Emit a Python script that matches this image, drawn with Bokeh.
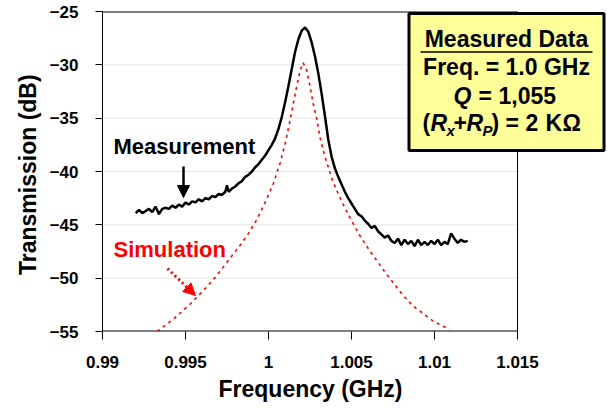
from bokeh.plotting import figure
from bokeh.models import FixedTicker, Label, BoxAnnotation, Arrow, NormalHead, Title
from bokeh.embed import file_html
from bokeh.resources import INLINE

# ---- data -------------------------------------------------------------
meas_freq = [0.9920, 0.9922, 0.9924, 0.9926, 0.9928, 0.9930, 0.9932, 0.9934, 0.9936, 0.9938,
             0.9940, 0.9942, 0.9944, 0.9946, 0.9948, 0.9950, 0.9952, 0.9954, 0.9956, 0.9958,
             0.9960, 0.9962, 0.9964, 0.9966, 0.9968, 0.9970, 0.9972, 0.9974, 0.9975, 0.9976,
             0.9978, 0.9980, 0.9982, 0.9984, 0.9986, 0.9988, 0.9990, 0.9992, 0.9994, 0.9996,
             0.9998, 1.0000, 1.0002, 1.0004, 1.0006, 1.0008, 1.0010, 1.0012, 1.0014, 1.0016,
             1.0018, 1.0020, 1.0022, 1.0024, 1.0026, 1.0028, 1.0030, 1.0032, 1.0034, 1.0036,
             1.0038, 1.0040, 1.0042, 1.0044, 1.0046, 1.0048, 1.0050, 1.0052, 1.0054, 1.0056,
             1.0058, 1.0060, 1.0062, 1.0064, 1.0066, 1.0068, 1.0070, 1.0072, 1.0074, 1.0076,
             1.0078, 1.0080, 1.0082, 1.0084, 1.0086, 1.0088, 1.0090, 1.0092, 1.0094, 1.0096,
             1.0098, 1.0100, 1.0102, 1.0104, 1.0106, 1.0108, 1.0110, 1.0112, 1.0114, 1.0116,
             1.0118, 1.0120]
meas_db = [-43.9, -43.6, -43.9, -43.7, -43.5, -43.8, -43.3, -44.0, -43.5, -43.4,
           -43.5, -43.2, -43.4, -43.1, -43.3, -42.9, -43.1, -42.8, -42.9, -42.6,
           -42.8, -42.5, -42.6, -42.3, -42.4, -42.1, -42.2, -41.9, -41.3, -41.9,
           -41.6, -41.4, -41.1, -40.9, -40.5, -40.3, -40.0, -39.6, -39.3, -38.9,
           -38.5, -38.0, -37.5, -36.9, -36.0, -34.9, -33.5, -32.0, -30.4, -28.8,
           -27.6, -26.8, -26.5, -26.9, -27.9, -29.2, -30.8, -32.7, -34.8, -37.0,
           -38.6, -39.7, -40.5, -41.2, -41.9, -42.5, -43.0, -43.5, -44.0, -44.2,
           -44.6, -44.9, -45.3, -45.1, -45.6, -45.9, -46.2, -46.0, -46.5, -46.7,
           -46.3, -46.9, -46.4, -46.8, -46.5, -47.0, -46.4, -46.9, -46.6, -46.9,
           -46.5, -46.8, -46.4, -46.9, -46.6, -46.8, -45.8, -46.3, -46.7, -46.4,
           -46.6, -46.5]

sim_freq = [0.9933, 0.9938, 0.9943, 0.9948, 0.9953, 0.9958, 0.9963, 0.9968, 0.9973, 0.9978,
            0.9983, 0.9988, 0.9993, 0.9998, 1.0003, 1.0007, 1.0010, 1.0013, 1.0015, 1.0017,
            1.0019, 1.00208, 1.0023, 1.0025, 1.0027, 1.0029, 1.0031, 1.0034, 1.0038, 1.0042,
            1.0046, 1.0050, 1.0055, 1.0060, 1.0065, 1.0070, 1.0075, 1.0081, 1.0087, 1.0093,
            1.0099, 1.0105, 1.0109]
sim_db = [-55.0, -54.4, -53.8, -53.1, -52.4, -51.6, -50.8, -49.9, -48.9, -47.9,
          -46.9, -45.8, -44.5, -42.9, -41.1, -39.2, -37.4, -35.2, -33.6, -32.0,
          -30.6, -29.8, -30.5, -32.0, -33.7, -35.0, -36.8, -38.6, -40.6, -42.1,
          -43.4, -44.6, -46.0, -47.2, -48.3, -49.4, -50.4, -51.6, -52.6, -53.3,
          -54.0, -54.5, -54.8]

x_ticks = [0.99, 0.995, 1.0, 1.005, 1.01, 1.015]
x_tick_labels = ["0.99", "0.995", "1", "1.005", "1.01", "1.015"]
y_ticks = [-55, -50, -45, -40, -35, -30, -25]
grid_levels = [-50, -45, -40, -35, -30]
X_MIN, X_MAX, Y_MIN, Y_MAX = 0.99, 1.015, -55, -25

FONT = "Liberation Sans"

# pixel -> data helpers (axis 0.99..1.015 spans px 102..517, -25..-55 spans px 11..331)
def dx(px):
    return 0.99 + (px - 102) * 0.025 / 415.0

def dy(py):
    return -25 - (py - 11) * 30.0 / 320.0

W, H = 607, 409
p = figure(width=W, height=H, x_range=(X_MIN, dx(W)), y_range=(Y_MIN, Y_MAX),
           output_backend="svg", toolbar_location=None,
           min_border_left=102, min_border_right=0, min_border_top=11, min_border_bottom=78)
p.background_fill_color = "white"
p.border_fill_color = "white"
p.outline_line_color = None

p.xgrid.visible = False
p.ygrid.visible = False

p.xaxis.ticker = FixedTicker(ticks=x_ticks)
p.xaxis.major_label_overrides = {t: l for t, l in zip(x_ticks, x_tick_labels)}
p.yaxis.ticker = FixedTicker(ticks=y_ticks)

for ax in (p.xaxis, p.yaxis):
    ax.axis_line_color = "black"
    ax.major_tick_line_color = "black"
    ax.minor_tick_line_color = None
    ax.major_tick_in = 0
    ax.major_label_text_font = FONT
    ax.major_label_text_font_style = "bold"
    ax.major_label_text_font_size = "17px"
    ax.major_label_text_color = "black"
    ax.axis_label_text_font = FONT
    ax.axis_label_text_font_style = "bold"
    ax.axis_label_text_font_size = "23px"
    ax.axis_label_text_color = "black"

p.xaxis.axis_line_color = None
p.xaxis.major_tick_out = 8
p.yaxis.major_tick_out = 7
p.xaxis.major_label_standoff = 16
p.yaxis.major_label_standoff = 17
p.yaxis.axis_label = "Transmission  (dB)"
p.yaxis.axis_label_standoff = 6

p.add_layout(Title(text="Frequency (GHz)", align="left", offset=116, standoff=7,
                   text_font=FONT, text_font_size="23px", text_font_style="bold",
                   text_color="black"), "below")

# grid lines and frame lines limited to the axis range
p.segment(x0=[X_MIN] * len(grid_levels), y0=grid_levels,
          x1=[X_MAX] * len(grid_levels), y1=grid_levels,
          line_color="#e6e6e6", line_width=1)
p.segment(x0=[X_MIN, X_MIN, X_MAX], y0=[Y_MAX, Y_MIN, Y_MIN],
          x1=[X_MAX, X_MAX, X_MAX], y1=[Y_MAX, Y_MIN, Y_MAX],
          line_color="black", line_width=[2, 2, 1])

# curves
p.line(sim_freq, sim_db, line_color="#FF0000", line_width=1.6, line_dash="3 4")
p.line(meas_freq, meas_db, line_color="black", line_width=2.5)

# annotations inside plot
p.add_layout(Label(x=dx(113), y=dy(158), text="Measurement", text_font=FONT,
                   text_font_size="22px", text_font_style="bold", text_color="black"))
p.add_layout(Arrow(x_start=dx(183), y_start=dy(166), x_end=dx(183), y_end=dy(197),
                   line_color="black", line_width=2.5,
                   end=NormalHead(size=12, fill_color="black", line_color="black")))
p.add_layout(Label(x=dx(113), y=dy(261), text="Simulation", text_font=FONT,
                   text_font_size="22px", text_font_style="bold", text_color="#FF0000"))
p.add_layout(Arrow(x_start=dx(167), y_start=dy(268), x_end=dx(195), y_end=dy(295),
                   line_color="#FF0000", line_width=3, line_dash="2 3",
                   end=NormalHead(size=12, fill_color="#FF0000", line_color="#FF0000")))

# info box
p.add_layout(BoxAnnotation(left=dx(408.5), right=dx(603.5), top=dy(13), bottom=dy(150),
                           fill_color="#FFFF99", fill_alpha=1.0,
                           line_color="black", line_width=3, line_alpha=1.0))

def box_text(px, py, text, size=23, style="bold", align="center"):
    # py is the wanted baseline; the alphabetic anchor renders ~0.33 em lower
    p.add_layout(Label(x=dx(px), y=dy(py - 0.33 * size), text=text, text_font=FONT,
                       text_font_size=f"{size}px", text_font_style=style, text_color="black",
                       text_align=align, text_baseline="alphabetic"))

box_text(506, 46, "Measured Data")
p.add_layout(Arrow(x_start=dx(420), y_start=dy(51.5), x_end=dx(592), y_end=dy(51.5),
                   line_color="black", line_width=1.5, end=None, start=None))
box_text(506, 74, "Freq. = 1.0 GHz")
box_text(453, 103, "Q", style="bold italic", align="left")
box_text(478, 103, "=", align="left")
box_text(498, 103, "1,055", align="left")
box_text(422, 130, "(", align="left")
box_text(430, 130, "R", style="bold italic", align="left")
box_text(446, 135, "x", size=15, style="bold italic", align="left")
box_text(453, 130, "+", align="left")
box_text(466, 130, "R", style="bold italic", align="left")
box_text(482, 135, "P", size=15, style="bold italic", align="left")
box_text(491, 130, ")", align="left")
box_text(505, 130, "=", align="left")
box_text(525, 130, "2", align="left")
box_text(545, 130, "K", align="left")
box_text(562, 130, "Ω", align="left")

open("out.html", "w").write(file_html(p, INLINE))
